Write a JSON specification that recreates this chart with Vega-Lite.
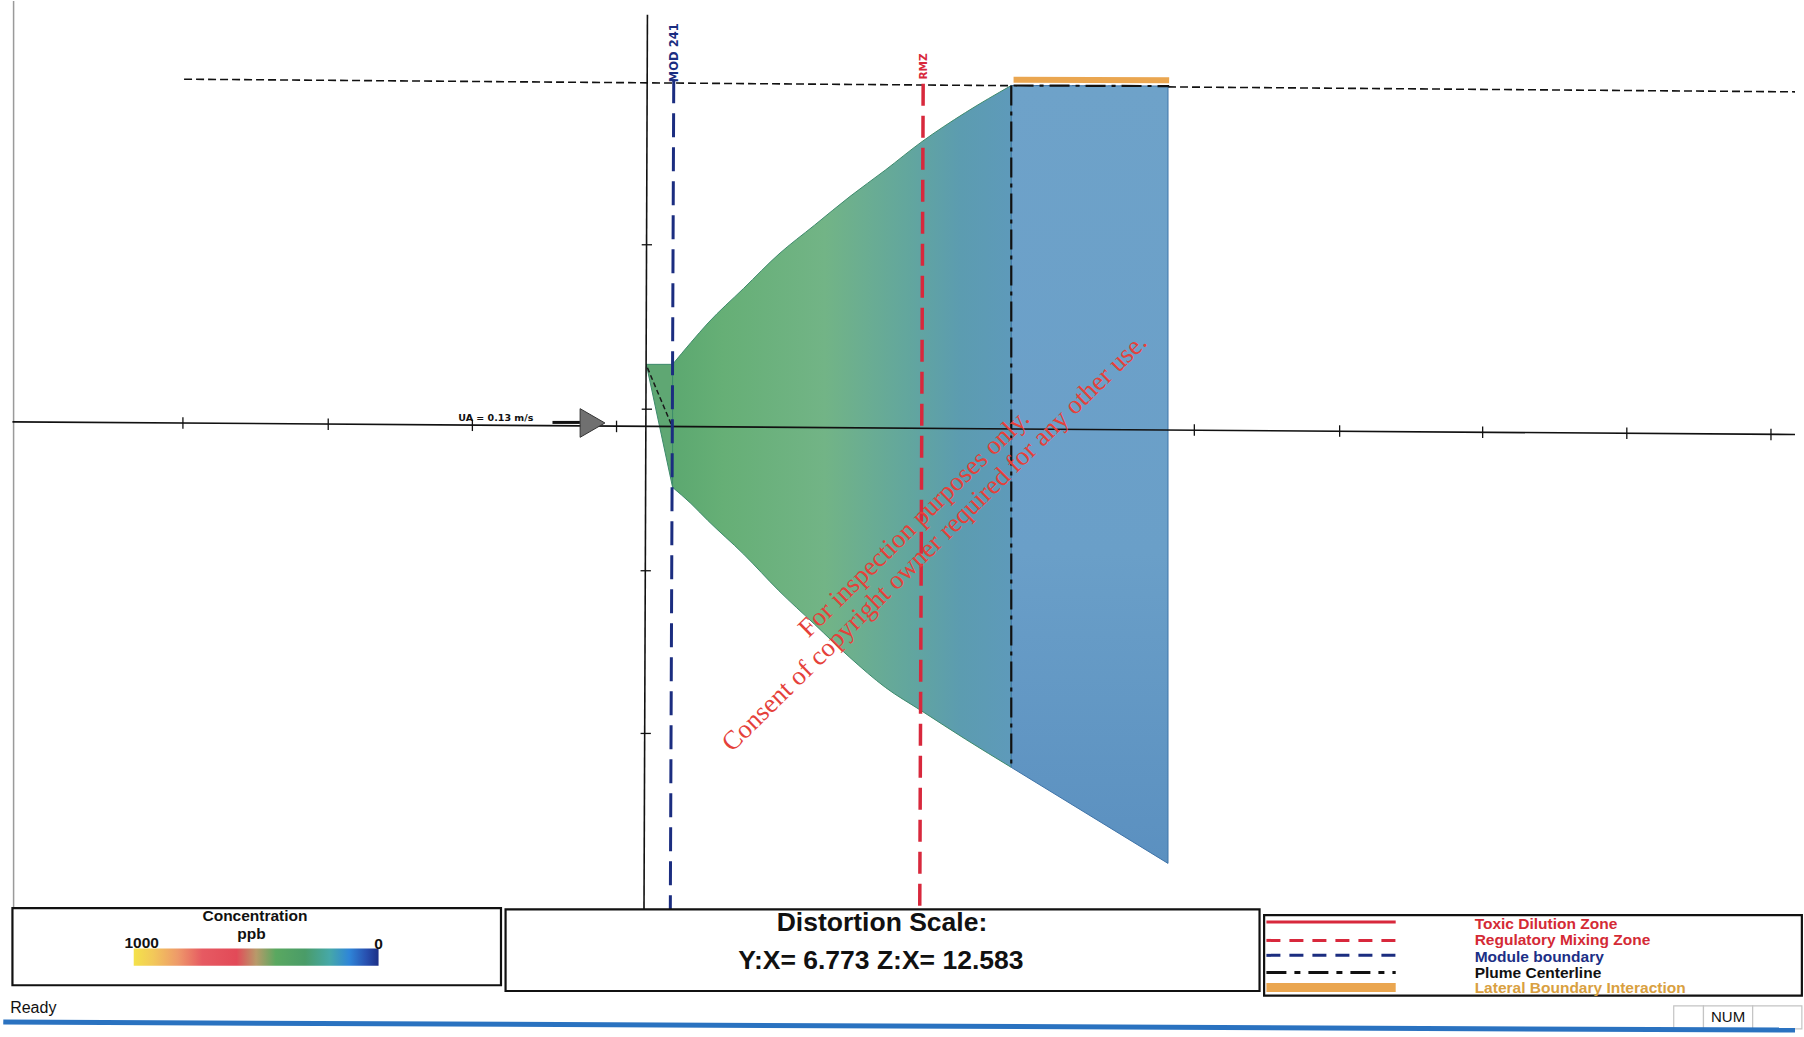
{
 "$schema": "https://vega.github.io/schema/vega-lite/v6.json",
 "width": 1804,
 "height": 1037,
 "autosize": {"type": "fit", "contains": "padding"},
 "padding": 0,
 "background": "white",
 "config": {"view": {"stroke": null}},
 "datasets": {
  "wedge": [
   {"x": 0, "y": 52, "ye": 52},
   {"x": 23, "y": 52, "ye": -55}
  ],
  "plume": [
   {"x": 23, "y": 52, "ye": -55},
   {"x": 39, "y": 71, "ye": -69},
   {"x": 54, "y": 88, "ye": -84},
   {"x": 85, "y": 118, "ye": -113},
   {"x": 116, "y": 148, "ye": -145},
   {"x": 147, "y": 173, "ye": -174},
   {"x": 178, "y": 198, "ye": -203},
   {"x": 209, "y": 221, "ye": -229},
   {"x": 240, "y": 245, "ye": -249},
   {"x": 279, "y": 271, "ye": -274},
   {"x": 319, "y": 294.5, "ye": -298.5}
  ],
  "zone": [
   {"x": 319, "y": 294.5, "ye": -298.5},
   {"x": 456, "y": 294, "ye": -382}
  ],
  "axes": [
   {"x": -554, "y": 2, "xe": 1004, "ye": -9},
   {"x": 1, "y": 356, "xe": -2, "ye": -422}
  ],
  "ticks": [
   {"x": -405, "y": 6, "xe": -405, "ye": -4},
   {"x": -278, "y": 5, "xe": -278, "ye": -5},
   {"x": -152, "y": 4, "xe": -152, "ye": -6},
   {"x": -26, "y": 3, "xe": -26, "ye": -7},
   {"x": 479, "y": 0, "xe": 479, "ye": -10},
   {"x": 606, "y": -1, "xe": 606, "ye": -11},
   {"x": 731, "y": -2, "xe": 731, "ye": -12},
   {"x": 857, "y": -3, "xe": 857, "ye": -13},
   {"x": 983, "y": -4, "xe": 983, "ye": -14},
   {"x": -4, "y": 156, "xe": 5, "ye": 156},
   {"x": -4, "y": 13, "xe": 5, "ye": 13},
   {"x": -5, "y": -127.5, "xe": 4, "ye": -127.5},
   {"x": -5, "y": -269, "xe": 4, "ye": -269}
  ],
  "border": [{"x": -553, "y": 368, "xe": -553, "ye": -487}],
  "topdash": [{"x": -404, "y": 300, "xe": 1004, "ye": 289}],
  "mod": [{"x": 24, "y": 300, "xe": 21, "ye": -422}],
  "rmz": [{"x": 242, "y": 296, "xe": 239, "ye": -422}],
  "centerline": [
   {"x": 319, "y": 294.5, "xe": 319, "ye": -298.5},
   {"x": 321, "y": 294.5, "xe": 457, "ye": 294}
  ],
  "orangebar": [{"x": 321, "y": 299.5, "xe": 457, "ye": 299}],
  "sourcedash": [{"x": 1, "y": 49, "xe": 23, "ye": -3}],
  "arrowtail": [{"x": -82, "y": 1.5, "xe": -58, "ye": 1.5}],
  "arrow": [{"x": -47, "y": 1}],
  "statusline": [{"x": -562, "y": -520, "xe": 1004, "ye": -527}],
  "panels": [
   {"x": -554, "xe": -127, "y": -421, "ye": -488},
   {"x": -123, "xe": 536, "y": -422, "ye": -493},
   {"x": 540, "xe": 1010, "y": -427, "ye": -497}
  ],
  "sboxes": [
   {"x": 898, "xe": 924, "y": -506, "ye": -526},
   {"x": 924, "xe": 967, "y": -506, "ye": -526},
   {"x": 967, "xe": 1010, "y": -506, "ye": -526}
  ],
  "colorbar": [{"x": -448, "xe": -234, "y": -456, "ye": -471}],
  "watermark": [
   {"x": 234, "y": -86.5, "t": "For inspection purposes only."},
   {"x": 252, "y": -103, "t": "Consent of copyright owner required for any other use."}
  ],
  "modlabel": [{"x": 25.5, "y": 323, "t": "MOD 241"}],
  "rmzlabel": [{"x": 242.5, "y": 311, "t": "RMZ"}],
  "ualabel": [{"x": -131.5, "y": 5, "t": "UA = 0.13 m/s"}],
  "conc": [
   {"x": -342, "y": -428, "t": "Concentration"},
   {"x": -345, "y": -443, "t": "ppb"},
   {"x": -441, "y": -451, "t": "1000"},
   {"x": -234, "y": -452, "t": "0"}
  ],
  "distortion": [
   {"x": 206, "y": -434, "t": "Distortion Scale:"},
   {"x": 205, "y": -467, "t": "Y:X= 6.773 Z:X= 12.583"}
  ],
  "legsolidred": [{"x": 542, "xe": 655, "y": -433, "ye": -433}],
  "legdashred": [{"x": 542, "xe": 655, "y": -449, "ye": -449}],
  "legdashnavy": [{"x": 542, "xe": 655, "y": -462, "ye": -462}],
  "legdashdot": [{"x": 542, "xe": 655, "y": -477, "ye": -477}],
  "legorange": [{"x": 542, "xe": 655, "y": -490, "ye": -490}],
  "leglabels": [
   {"x": 724, "y": -435, "t": "Toxic Dilution Zone"},
   {"x": 724, "y": -449, "t": "Regulatory Mixing Zone"},
   {"x": 724, "y": -463, "t": "Module boundary"},
   {"x": 724, "y": -477, "t": "Plume Centerline"},
   {"x": 724, "y": -490, "t": "Lateral Boundary Interaction"}
  ],
  "status": [{"x": -556, "y": -508, "t": "Ready"}],
  "num": [{"x": 945.5, "y": -516, "t": "NUM"}]
 },
 "encoding": {
  "x": {"field": "x", "type": "quantitative", "scale": {"domain": [-564, 1004], "nice": false, "zero": false}, "axis": null},
  "y": {"field": "y", "type": "quantitative", "scale": {"domain": [-533, 368], "nice": false, "zero": false}, "axis": null}
 },
 "layer": [
  {
   "data": {"name": "border"},
   "mark": {"type": "rule", "color": "#9a9a9a", "strokeWidth": 1.5},
   "encoding": {"x2": {"field": "xe"}, "y2": {"field": "ye"}}
  },
  {
   "data": {"name": "topdash"},
   "mark": {"type": "rule", "color": "#111111", "strokeWidth": 1.6, "strokeDash": [8, 4]},
   "encoding": {"x2": {"field": "xe"}, "y2": {"field": "ye"}}
  },
  {
   "data": {"name": "wedge"},
   "mark": {"type": "area", "orient": "vertical", "interpolate": "linear", "color": "#5fa773", "stroke": "#3d8a6c", "strokeWidth": 1},
   "encoding": {"y2": {"field": "ye"}}
  },
  {
   "data": {"name": "plume"},
   "mark": {
    "type": "area", "orient": "vertical", "interpolate": "monotone", "stroke": "#3d8a6c", "strokeWidth": 1,
    "fill": {"gradient": "linear", "x1": 0, "y1": 0, "x2": 1, "y2": 0,
     "stops": [
      {"offset": 0, "color": "#5ca870"},
      {"offset": 0.15, "color": "#66af76"},
      {"offset": 0.45, "color": "#72b486"},
      {"offset": 0.7, "color": "#62a69e"},
      {"offset": 0.85, "color": "#5c9cb0"},
      {"offset": 1, "color": "#5e9aba"}
     ]}
   },
   "encoding": {"y2": {"field": "ye"}}
  },
  {
   "data": {"name": "zone"},
   "mark": {
    "type": "area", "orient": "vertical", "stroke": "#3f74a8", "strokeWidth": 1,
    "fill": {"gradient": "linear", "x1": 0, "y1": 0, "x2": 0, "y2": 1,
     "stops": [
      {"offset": 0, "color": "#6ea2c9"},
      {"offset": 0.6, "color": "#6a9fc8"},
      {"offset": 1, "color": "#5b90c0"}
     ]}
   },
   "encoding": {"y2": {"field": "ye"}}
  },
  {
   "data": {"name": "axes"},
   "mark": {"type": "rule", "color": "#111111", "strokeWidth": 1.6},
   "encoding": {"x2": {"field": "xe"}, "y2": {"field": "ye"}}
  },
  {
   "data": {"name": "ticks"},
   "mark": {"type": "rule", "color": "#111111", "strokeWidth": 1.3},
   "encoding": {"x2": {"field": "xe"}, "y2": {"field": "ye"}}
  },
  {
   "data": {"name": "sourcedash"},
   "mark": {"type": "rule", "color": "#1a1a1a", "strokeWidth": 1.5, "strokeDash": [5, 3]},
   "encoding": {"x2": {"field": "xe"}, "y2": {"field": "ye"}}
  },
  {
   "data": {"name": "mod"},
   "mark": {"type": "rule", "color": "#1b2d80", "strokeWidth": 3, "strokeDash": [24, 10]},
   "encoding": {"x2": {"field": "xe"}, "y2": {"field": "ye"}}
  },
  {
   "data": {"name": "rmz"},
   "mark": {"type": "rule", "color": "#d8283c", "strokeWidth": 3.5, "strokeDash": [22, 10]},
   "encoding": {"x2": {"field": "xe"}, "y2": {"field": "ye"}}
  },
  {
   "data": {"name": "orangebar"},
   "mark": {"type": "rule", "color": "#eaa650", "strokeWidth": 6},
   "encoding": {"x2": {"field": "xe"}, "y2": {"field": "ye"}}
  },
  {
   "data": {"name": "centerline"},
   "mark": {"type": "rule", "color": "#111111", "strokeWidth": 2.2, "strokeDash": [20, 6, 4, 6]},
   "encoding": {"x2": {"field": "xe"}, "y2": {"field": "ye"}}
  },
  {
   "data": {"name": "arrowtail"},
   "mark": {"type": "rule", "color": "#111111", "strokeWidth": 3},
   "encoding": {"x2": {"field": "xe"}, "y2": {"field": "ye"}}
  },
  {
   "data": {"name": "arrow"},
   "mark": {"type": "point", "shape": "triangle-right", "size": 820, "filled": true, "fill": "#707070", "stroke": "#333333", "strokeWidth": 1, "opacity": 1}
  },
  {
   "data": {"name": "modlabel"},
   "mark": {"type": "text", "angle": 270, "font": "DejaVu Sans", "fontWeight": "bold", "fontSize": 11.5, "color": "#1b2d80", "align": "center", "baseline": "middle"},
   "encoding": {"text": {"field": "t"}}
  },
  {
   "data": {"name": "rmzlabel"},
   "mark": {"type": "text", "angle": 270, "font": "DejaVu Sans", "fontWeight": "bold", "fontSize": 10.5, "color": "#d8283c", "align": "center", "baseline": "middle"},
   "encoding": {"text": {"field": "t"}}
  },
  {
   "data": {"name": "ualabel"},
   "mark": {"type": "text", "font": "DejaVu Sans", "fontWeight": "bold", "fontSize": 9.5, "color": "#111111", "align": "center", "baseline": "middle"},
   "encoding": {"text": {"field": "t"}}
  },
  {
   "data": {"name": "watermark"},
   "mark": {"type": "text", "angle": -44.5, "font": "Liberation Serif", "fontSize": 26.5, "color": "#e5413a", "align": "center", "baseline": "middle"},
   "encoding": {"text": {"field": "t"}}
  },
  {
   "data": {"name": "panels"},
   "mark": {"type": "rect", "fill": "white", "stroke": "#111111", "strokeWidth": 2.2},
   "encoding": {"x2": {"field": "xe"}, "y2": {"field": "ye"}}
  },
  {
   "data": {"name": "sboxes"},
   "mark": {"type": "rect", "fill": "white", "stroke": "#c4c4c4", "strokeWidth": 1.2},
   "encoding": {"x2": {"field": "xe"}, "y2": {"field": "ye"}}
  },
  {
   "data": {"name": "statusline"},
   "mark": {"type": "rule", "color": "#2a72c0", "strokeWidth": 5},
   "encoding": {"x2": {"field": "xe"}, "y2": {"field": "ye"}}
  },
  {
   "data": {"name": "colorbar"},
   "mark": {
    "type": "rect",
    "fill": {"gradient": "linear", "x1": 0, "y1": 0, "x2": 1, "y2": 0,
     "stops": [
      {"offset": 0, "color": "#f4e24a"},
      {"offset": 0.08, "color": "#f2c85a"},
      {"offset": 0.18, "color": "#ee9a6a"},
      {"offset": 0.28, "color": "#e65a62"},
      {"offset": 0.42, "color": "#e24a58"},
      {"offset": 0.5, "color": "#b89a6a"},
      {"offset": 0.58, "color": "#5aa860"},
      {"offset": 0.7, "color": "#4a9c68"},
      {"offset": 0.8, "color": "#46a8a8"},
      {"offset": 0.88, "color": "#2f86d8"},
      {"offset": 0.95, "color": "#2850b0"},
      {"offset": 1, "color": "#1c2f86"}
     ]}
   },
   "encoding": {"x2": {"field": "xe"}, "y2": {"field": "ye"}}
  },
  {
   "data": {"name": "conc"},
   "mark": {"type": "text", "font": "Liberation Sans", "fontWeight": "bold", "fontSize": 15.5, "color": "#111111", "align": "center", "baseline": "middle"},
   "encoding": {"text": {"field": "t"}}
  },
  {
   "data": {"name": "distortion"},
   "mark": {"type": "text", "font": "Liberation Sans", "fontWeight": "bold", "fontSize": 26.5, "color": "#111111", "align": "center", "baseline": "middle"},
   "encoding": {"text": {"field": "t"}}
  },
  {
   "data": {"name": "legsolidred"},
   "mark": {"type": "rule", "color": "#d8283c", "strokeWidth": 3},
   "encoding": {"x2": {"field": "xe"}, "y2": {"field": "ye"}}
  },
  {
   "data": {"name": "legdashred"},
   "mark": {"type": "rule", "color": "#d8283c", "strokeWidth": 3, "strokeDash": [14, 9]},
   "encoding": {"x2": {"field": "xe"}, "y2": {"field": "ye"}}
  },
  {
   "data": {"name": "legdashnavy"},
   "mark": {"type": "rule", "color": "#1b2d80", "strokeWidth": 3, "strokeDash": [14, 9]},
   "encoding": {"x2": {"field": "xe"}, "y2": {"field": "ye"}}
  },
  {
   "data": {"name": "legdashdot"},
   "mark": {"type": "rule", "color": "#111111", "strokeWidth": 3, "strokeDash": [20, 8, 6, 8]},
   "encoding": {"x2": {"field": "xe"}, "y2": {"field": "ye"}}
  },
  {
   "data": {"name": "legorange"},
   "mark": {"type": "rule", "color": "#eaa650", "strokeWidth": 9},
   "encoding": {"x2": {"field": "xe"}, "y2": {"field": "ye"}}
  },
  {
   "data": {"name": "leglabels"},
   "mark": {"type": "text", "font": "Liberation Sans", "fontWeight": "bold", "fontSize": 15.5, "align": "left", "baseline": "middle"},
   "encoding": {
    "text": {"field": "t"},
    "color": {"field": "t", "type": "nominal", "legend": null,
     "scale": {"domain": ["Toxic Dilution Zone", "Regulatory Mixing Zone", "Module boundary", "Plume Centerline", "Lateral Boundary Interaction"],
               "range": ["#d42a35", "#d42a35", "#1c2f86", "#111111", "#d9a040"]}}
   }
  },
  {
   "data": {"name": "status"},
   "mark": {"type": "text", "font": "Liberation Sans", "fontSize": 16, "color": "#111111", "align": "left", "baseline": "middle"},
   "encoding": {"text": {"field": "t"}}
  },
  {
   "data": {"name": "num"},
   "mark": {"type": "text", "font": "Liberation Sans", "fontSize": 15, "color": "#111111", "align": "center", "baseline": "middle"},
   "encoding": {"text": {"field": "t"}}
  }
 ]
}
